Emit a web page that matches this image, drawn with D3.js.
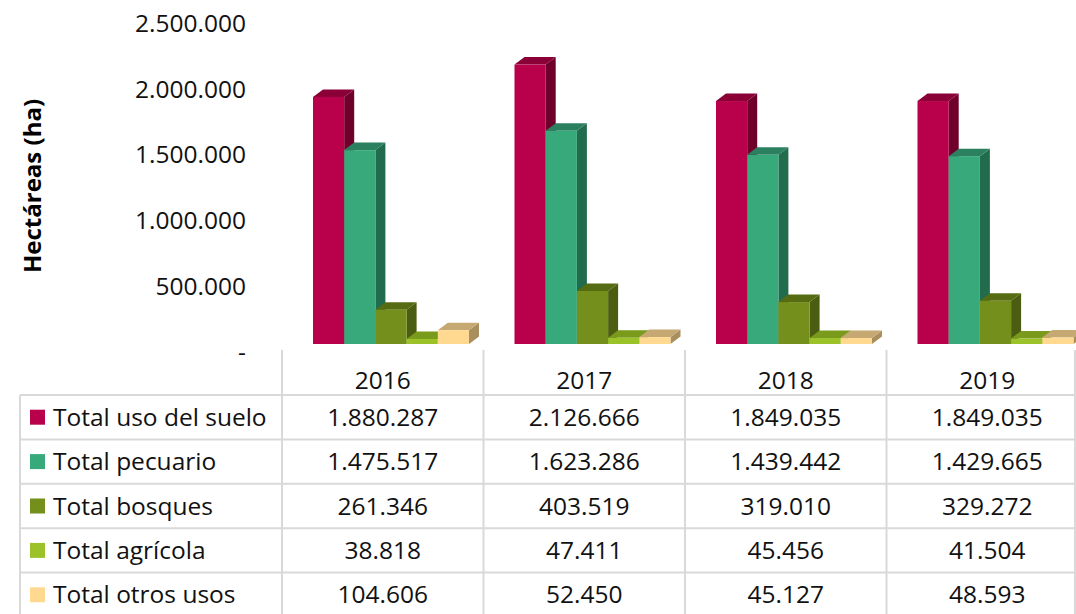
<!DOCTYPE html>
<html>
<head>
<meta charset="utf-8">
<script src="https://cdn.jsdelivr.net/npm/d3@7"></script>
<style>
  body { margin: 0; background: #fff; }
  svg { font-family: "Open Sans", sans-serif; }
</style>
</head>
<body>
<svg width="1076" height="614"></svg>
<script>
// Data
const years = ["2016", "2017", "2018", "2019"];
const seriesNames = ["Total uso del suelo", "Total pecuario", "Total bosques", "Total agrícola", "Total otros usos"];
const usoSuelo = [1880287, 2126666, 1849035, 1849035];
const pecuario = [1475517, 1623286, 1439442, 1429665];
const bosques = [261346, 403519, 319010, 329272];
const agricola = [38818, 47411, 45456, 41504];
const otrosUsos = [104606, 52450, 45127, 48593];
const yTicks = [0, 500000, 1000000, 1500000, 2000000, 2500000];

const seriesValues = [usoSuelo, pecuario, bosques, agricola, otrosUsos];
const colors = [
    { front: "#b8004b", top: "#8a0036", side: "#6e002b" },
    { front: "#38a97b", top: "#2b8060", side: "#226c4e" },
    { front: "#748f1b", top: "#566c12", side: "#4a5d10" },
    { front: "#9cc22a", top: "#7a9a1c", side: "#5f7a14" },
    { front: "#ffd990", top: "#c6a872", side: "#a98e5e" }
];

const svg = d3.select("svg");
const fmt = v => v === 0 ? "-" : d3.format(",")(v).replace(/,/g, ".");
const fontSize = 24.5;

// Depth of the 3D boxes
const dx = 10, dy = -7.5;

// Scales
const xScale = d3.scaleBand()
    .domain(years)
    .range([282, 1088])
    .padding(0);

const xInner = d3.scaleBand()
    .domain(d3.range(seriesNames.length))
    .range([31, 31 + 156])
    .padding(0);

const yScale = d3.scaleLinear()
    .domain([0, 2500000])
    .range([344, 344 - 328.5]);

// Y tick labels
svg.append("g")
    .selectAll("text")
    .data(yTicks)
    .enter()
    .append("text")
    .attr("x", 246)
    .attr("y", d => yScale(d) + 8)
    .attr("dy", "0.35em")
    .attr("text-anchor", "end")
    .attr("font-size", fontSize)
    .attr("fill", "#111")
    .text(fmt);

// Y axis title
svg.append("text")
    .attr("transform", "rotate(-90)")
    .attr("x", -186)
    .attr("y", 33)
    .attr("dy", "0.35em")
    .attr("text-anchor", "middle")
    .attr("font-size", 24)
    .attr("font-weight", "bold")
    .text("Hectáreas (ha)");

// 3D bars
const bars = svg.append("g");
years.forEach((yr, yi) => {
    seriesValues.forEach((vals, si) => {
        const x0 = xScale(yr) + xInner(si);
        const x1 = x0 + xInner.bandwidth();
        const y0 = yScale(0);
        const y1 = yScale(vals[yi]);
        const c = colors[si];
        // side
        bars.append("path")
            .attr("d", `M${x1},${y1}L${x1 + dx},${y1 + dy}L${x1 + dx},${y0 + dy}L${x1},${y0}Z`)
            .attr("fill", c.side);
        // top
        bars.append("path")
            .attr("d", `M${x0},${y1}L${x0 + dx},${y1 + dy}L${x1 + dx},${y1 + dy}L${x1},${y1}Z`)
            .attr("fill", c.top);
        // front
        bars.append("rect")
            .attr("x", x0)
            .attr("y", y1)
            .attr("width", x1 - x0)
            .attr("height", y0 - y1)
            .attr("fill", c.front);
    });
});

// Data table
const rowTop = 395, rowH = 44.4;
const grid = svg.append("g")
    .attr("stroke", "#d9d9d9")
    .attr("stroke-width", 2);

// vertical lines
grid.append("line")
    .attr("x1", 20).attr("x2", 20)
    .attr("y1", rowTop).attr("y2", 614);
years.forEach(yr => {
    grid.append("line")
        .attr("x1", xScale(yr)).attr("x2", xScale(yr))
        .attr("y1", 350).attr("y2", 614);
});
grid.append("line")
    .attr("x1", 1075).attr("x2", 1075)
    .attr("y1", 350).attr("y2", 614);

// horizontal lines
seriesNames.forEach((s, i) => {
    grid.append("line")
        .attr("x1", 20).attr("x2", 1076)
        .attr("y1", rowTop + i * rowH).attr("y2", rowTop + i * rowH);
});

// header years
svg.append("g")
    .selectAll("text")
    .data(years)
    .enter()
    .append("text")
    .attr("x", d => xScale(d) + xScale.bandwidth() / 2)
    .attr("y", 380)
    .attr("dy", "0.35em")
    .attr("text-anchor", "middle")
    .attr("font-size", fontSize)
    .attr("fill", "#111")
    .text(d => d);

// rows
seriesNames.forEach((s, si) => {
    const cy = rowTop + si * rowH + rowH / 2;
    svg.append("rect")
        .attr("x", 30)
        .attr("y", cy - 7.5)
        .attr("width", 15)
        .attr("height", 15)
        .attr("fill", colors[si].front);
    svg.append("text")
        .attr("x", 53)
        .attr("y", cy)
        .attr("dy", "0.35em")
        .attr("font-size", fontSize)
        .attr("fill", "#111")
        .text(s);
    years.forEach((yr, yi) => {
        svg.append("text")
            .attr("x", xScale(yr) + xScale.bandwidth() / 2)
            .attr("y", cy)
            .attr("dy", "0.35em")
            .attr("text-anchor", "middle")
            .attr("font-size", fontSize)
            .attr("fill", "#111")
            .text(fmt(seriesValues[si][yi]));
    });
});
</script>
</body>
</html>
